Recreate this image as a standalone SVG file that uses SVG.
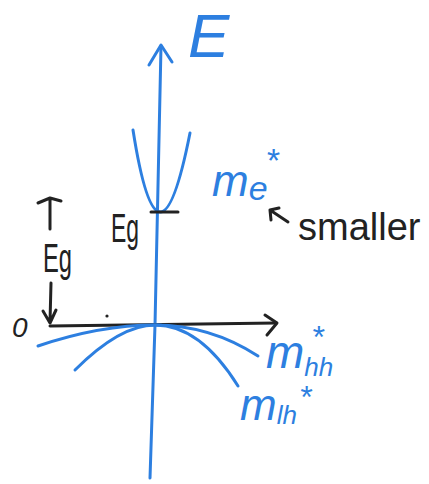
<svg xmlns="http://www.w3.org/2000/svg" width="429" height="484" viewBox="0 0 429 484">
<style>
.b{fill:none;stroke:#2d7fe0;stroke-width:3;stroke-linecap:round;stroke-linejoin:round}
.k{fill:none;stroke:#222;stroke-width:3;stroke-linecap:round;stroke-linejoin:round}
.tb{fill:#2d7fe0;font-family:"Liberation Sans",sans-serif;font-style:italic}
.tk{fill:#222;font-family:"Liberation Sans",sans-serif}
</style>
<rect width="429" height="484" fill="#fff"/>
<!-- vertical E axis -->
<path class="b" d="M150,478 L155,325 L161,46"/>
<path class="b" d="M149,65 L161,45 L172,62"/>
<text class="tb" x="188" y="57" font-size="62" font-style="normal">E</text>
<!-- conduction band -->
<path class="b" d="M133,130 Q158.5,292.5 190,133"/>
<path class="k" d="M151,212 L178,212"/>
<text class="tk" x="111" y="242" font-size="40" textLength="28" lengthAdjust="spacingAndGlyphs">Eg</text>
<!-- horizontal axis -->
<path class="k" d="M50,326 L276,323"/>
<path class="k" d="M265,315 L277,323 L267,335"/>
<circle cx="107" cy="316" r="1.6" fill="#222"/>
<text class="tk" x="12" y="337" font-size="28" font-style="italic">0</text>
<!-- Eg gap marker -->
<path class="k" d="M50,199 L50,229 M38,203 L50,198 L61,201"/>
<text class="tk" x="43" y="272" font-size="40" textLength="29" lengthAdjust="spacingAndGlyphs">Eg</text>
<path class="k" d="M51,283 L50,322 M43,311 L50,323 L56,310"/>
<!-- valence bands -->
<path class="b" d="M38,346 Q100,325 155,325 Q210,325 258,356"/>
<path class="b" d="M75,370 Q120,325 155,325 Q200,325 238,386"/>
<!-- labels -->
<text class="tb" x="212" y="196" font-size="44">m<tspan font-size="34" dy="4">e</tspan><tspan font-size="34" dx="-2" dy="-28">*</tspan></text>
<path class="k" d="M288,222 L270,210 M270,210 L271,220 M270,210 L279,208"/>
<text class="tk" x="298" y="240" font-size="38">smaller</text>
<text class="tb" x="266" y="368" font-size="46">m<tspan font-size="26" dy="8">hh</tspan><tspan font-size="32" dx="-22" dy="-28">*</tspan></text>
<text class="tb" x="240" y="420" font-size="44">m<tspan font-size="26" dy="4">lh</tspan><tspan font-size="32" dx="2" dy="-16">*</tspan></text>
</svg>
